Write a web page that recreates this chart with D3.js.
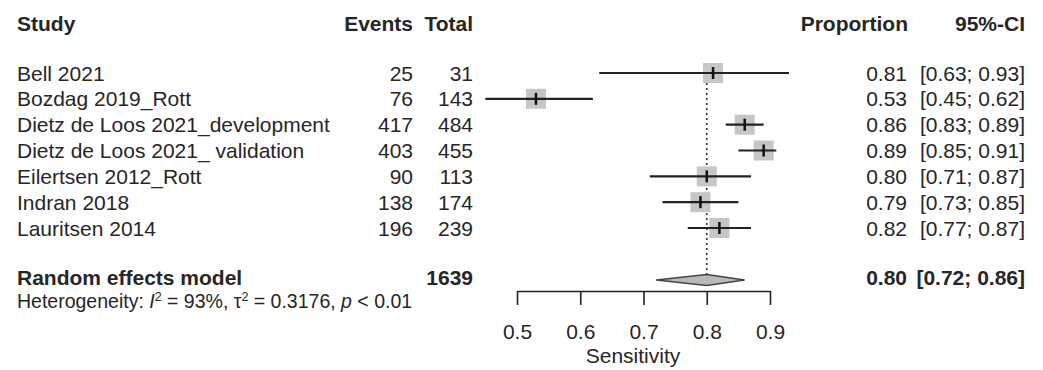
<!DOCTYPE html>
<html>
<head>
<meta charset="utf-8">
<script src="https://cdn.jsdelivr.net/npm/d3@7/dist/d3.min.js"></script>
<style>
  html, body { margin: 0; padding: 0; background: #fff; }
  svg { display: block; font-family: "Liberation Sans", Arial, sans-serif; }
</style>
</head>
<body>
<svg id="chart" width="1043" height="370"></svg>
<script>
// Study-level data
const studies = [
  "Bell 2021",
  "Bozdag 2019_Rott",
  "Dietz de Loos 2021_development",
  "Dietz de Loos 2021_ validation",
  "Eilertsen 2012_Rott",
  "Indran 2018",
  "Lauritsen 2014"
];
const events = [25, 76, 417, 403, 90, 138, 196];
const totals = [31, 143, 484, 455, 113, 174, 239];
const proportions = [0.81, 0.53, 0.86, 0.89, 0.80, 0.79, 0.82];
const lowerCI = [0.63, 0.45, 0.83, 0.85, 0.71, 0.73, 0.77];
const upperCI = [0.93, 0.62, 0.89, 0.91, 0.87, 0.85, 0.87];

// Pooled random effects estimate
const pooledLabel = "Random effects model";
const pooledTotal = 1639;
const pooledEst = 0.80;
const pooledLower = 0.72;
const pooledUpper = 0.86;

const axisTicks = [0.5, 0.6, 0.7, 0.8, 0.9];
const axisTitle = "Sensitivity";

const svg = d3.select("#chart");
const ink = "#262626";
const fs = 21;
const fmt = d3.format(".2f");

// Column anchors (right edges for right-aligned columns)
const colStudy = 17, colEvents = 413, colTotal = 473, colProp = 907, colCI = 1025;

const x = d3.scaleLinear().domain([0.5, 0.9]).range([517, 770]);
const y = d3.scalePoint().domain(d3.range(studies.length)).range([73, 228]);
const yPooled = 280;

// Column headers
const head = svg.append("g").attr("font-weight", "bold").attr("font-size", fs).attr("fill", ink);
head.append("text").attr("x", colStudy).attr("y", 31).text("Study");
head.append("text").attr("x", colEvents).attr("y", 31).attr("text-anchor", "end").text("Events");
head.append("text").attr("x", colTotal).attr("y", 31).attr("text-anchor", "end").text("Total");
head.append("text").attr("x", colProp + 1).attr("y", 31).attr("text-anchor", "end").text("Proportion");
head.append("text").attr("x", colCI).attr("y", 31).attr("text-anchor", "end").text("95%-CI");

// Study rows text
const rows = svg.append("g").attr("font-size", fs).attr("fill", ink);
const rowG = rows.selectAll("g").data(studies).join("g")
  .attr("transform", (d, i) => `translate(0,${y(i) + 7.5})`);
rowG.append("text").attr("x", colStudy).text(d => d);
rowG.append("text").attr("x", colEvents).attr("text-anchor", "end").text((d, i) => events[i]);
rowG.append("text").attr("x", colTotal).attr("text-anchor", "end").text((d, i) => totals[i]);
rowG.append("text").attr("x", colProp).attr("text-anchor", "end").text((d, i) => fmt(proportions[i]));
rowG.append("text").attr("x", colCI).attr("text-anchor", "end")
  .text((d, i) => `[${fmt(lowerCI[i])}; ${fmt(upperCI[i])}]`);

// Reference line at pooled estimate
svg.append("line")
  .attr("x1", x(pooledEst)).attr("x2", x(pooledEst))
  .attr("y1", y(0) + 10).attr("y2", yPooled - 6)
  .attr("stroke", "#333").attr("stroke-width", 1.6)
  .attr("stroke-dasharray", "2,3");

// Weight squares
const sq = 20;
svg.append("g").selectAll("rect").data(proportions).join("rect")
  .attr("x", d => x(d) - sq / 2)
  .attr("y", (d, i) => y(i) - sq / 2)
  .attr("width", sq).attr("height", sq)
  .attr("fill", "#c6c6c6");

// Confidence intervals
svg.append("g").selectAll("line").data(proportions).join("line")
  .attr("x1", (d, i) => x(lowerCI[i]))
  .attr("x2", (d, i) => x(upperCI[i]))
  .attr("y1", (d, i) => y(i)).attr("y2", (d, i) => y(i))
  .attr("stroke", "#222").attr("stroke-width", 2.2);

// Point estimate markers
svg.append("g").selectAll("line").data(proportions).join("line")
  .attr("x1", d => x(d)).attr("x2", d => x(d))
  .attr("y1", (d, i) => y(i) - 6).attr("y2", (d, i) => y(i) + 6)
  .attr("stroke", "#111").attr("stroke-width", 2.5);

// Pooled diamond
const dh = 5.5;
svg.append("path")
  .attr("d", `M${x(pooledLower)},${yPooled}L${x(pooledEst)},${yPooled - dh}L${x(pooledUpper)},${yPooled}L${x(pooledEst)},${yPooled + dh}Z`)
  .attr("fill", "#b8b8b8").attr("stroke", "#444").attr("stroke-width", 1.5);

// Pooled row text
const pooled = svg.append("g").attr("font-size", fs).attr("fill", ink).attr("font-weight", "bold");
pooled.append("text").attr("x", colStudy).attr("y", yPooled + 5).text(pooledLabel);
pooled.append("text").attr("x", colTotal).attr("y", yPooled + 5).attr("text-anchor", "end").text(pooledTotal);
pooled.append("text").attr("x", colProp).attr("y", yPooled + 5).attr("text-anchor", "end").text(fmt(pooledEst));
pooled.append("text").attr("x", colCI).attr("y", yPooled + 5).attr("text-anchor", "end")
  .text(`[${fmt(pooledLower)}; ${fmt(pooledUpper)}]`);

// Heterogeneity statement
const het = svg.append("text").attr("x", colStudy).attr("y", 308).attr("font-size", 19.5).attr("fill", ink);
het.append("tspan").text("Heterogeneity: ");
het.append("tspan").attr("font-style", "italic").text("I");
het.append("tspan").attr("font-size", 12.5).attr("dy", -7).text("2");
het.append("tspan").attr("dy", 7).text(" = 93%, \u03C4");
het.append("tspan").attr("font-size", 12.5).attr("dy", -7).text("2");
het.append("tspan").attr("dy", 7).text(" = 0.3176, ");
het.append("tspan").attr("font-style", "italic").text("p");
het.append("tspan").text(" < 0.01");

// Bottom axis
const axisG = svg.append("g").attr("transform", "translate(0,291)")
  .call(d3.axisBottom(x).tickValues(axisTicks).tickFormat(d3.format(".1f"))
    .tickSize(14).tickSizeOuter(0).tickPadding(19));
axisG.select(".domain").attr("stroke", "#222").attr("stroke-width", 1.6);
axisG.selectAll(".tick line").attr("stroke", "#222").attr("stroke-width", 1.6);
axisG.selectAll(".tick text").attr("font-size", fs).attr("fill", ink)
  .attr("font-family", "Liberation Sans, Arial, sans-serif");

svg.append("text")
  .attr("x", 633).attr("y", 363)
  .attr("text-anchor", "middle").attr("font-size", fs).attr("fill", ink)
  .text(axisTitle);
</script>
</body>
</html>
